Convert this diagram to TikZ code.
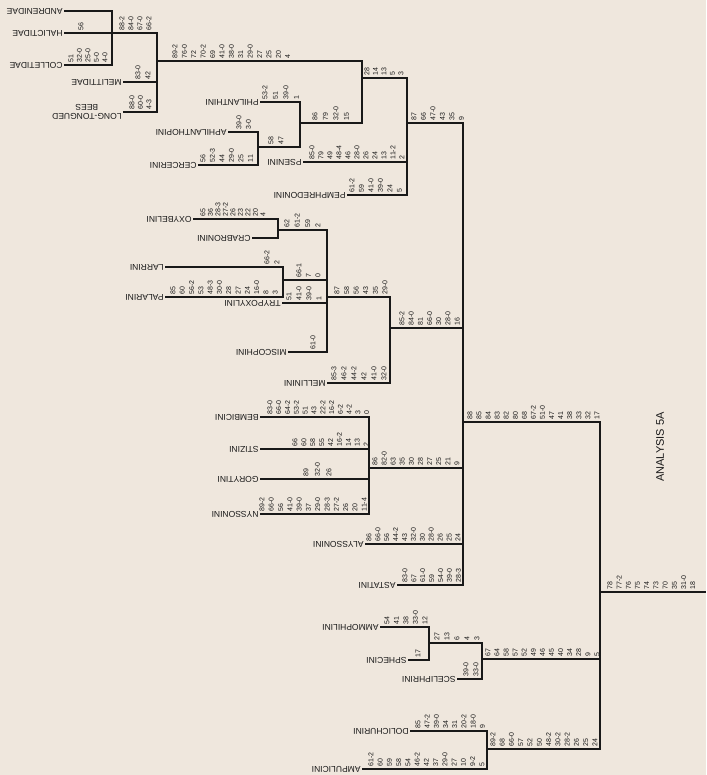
\documentclass[tikz,border=0pt]{standalone}
\usepackage{fontspec}
\setmainfont{Liberation Sans}
\definecolor{bg}{RGB}{239,231,221}
\definecolor{ink}{RGB}{25,25,25}
\newcommand\taxfont{\fontsize{8.5}{9.5}\selectfont}
\newcommand\chrfont{\fontsize{7}{7}\selectfont}
\newcommand\charlist[5]{%
  \foreach \lab [count=\i from 0] in {#5} {%
    \node[chr] (#1-\i) at ({#2+\i*#3},{#4-2.5}) {\lab};}}
\tikzset{
  br/.style={line width=1.5pt, draw=ink},
  tax/.style={font=\taxfont, rotate=180, anchor=west, inner sep=1.5pt, outer sep=0pt, text=ink},
  chr/.style={font=\chrfont, rotate=90, anchor=west, inner sep=0pt, text=ink},
}
\begin{document}
\begin{tikzpicture}[x=1pt,y=-1pt]
\fill[bg] (0,0) rectangle (706,775);
\useasboundingbox (0,0) rectangle (706,775);

% taxa
\node[tax] (andr) at (64,11) {ANDRENIDAE};
\node[tax] (hali) at (64,33) {HALICTIDAE};
\node[tax] (coll) at (64,65) {COLLETIDAE};
\node[tax] (meli) at (123,82) {MELITTIDAE};
\node[tax, align=center] (long) at (123,112) {LONG-TONGUED\\BEES};
\node[tax] (phil) at (260,102) {PHILANTHINI};
\node[tax] (aphi) at (228,132) {APHILANTHOPINI};
\node[tax] (cerc) at (198,165) {CERCERINI};
\node[tax] (psen) at (303,162) {PSENINI};
\node[tax] (pemp) at (347,195) {PEMPHREDONINI};
\node[tax] (oxyb) at (193,219) {OXYBELINI};
\node[tax] (crab) at (252,238) {CRABRONINI};
\node[tax] (larr) at (165,267) {LARRINI};
\node[tax] (pala) at (165,297) {PALARINI};
\node[tax] (tryp) at (282,303) {TRYPOXYLINI};
\node[tax] (misc) at (288,352) {MISCOPHINI};
\node[tax] (mell) at (327,383) {MELLININI};
\node[tax] (bemb) at (260,417) {BEMBICINI};
\node[tax] (stiz) at (260,449) {STIZINI};
\node[tax] (gory) at (260,479) {GORYTINI};
\node[tax] (nyss) at (260,514) {NYSSONINI};
\node[tax] (alys) at (365,544) {ALYSSONINI};
\node[tax] (asta) at (397,585) {ASTATINI};
\node[tax] (ammo) at (380,627) {AMMOPHILINI};
\node[tax] (sphe) at (408,660) {SPHECINI};
\node[tax] (scel) at (457,679) {SCELIPHRINI};
\node[tax] (doli) at (410,731) {DOLICHURINI};
\node[tax] (ampu) at (362,769) {AMPULICINI};

% junctions
\coordinate (jA) at (112,33);
\coordinate (jB) at (157,61);
\coordinate (jAC) at (258,147);
\coordinate (jPh) at (300,123);
\coordinate (jC) at (362,78);
\coordinate (jD) at (407,123);
\coordinate (jOC) at (278,230);
\coordinate (jLP) at (283,280);
\coordinate (jLa) at (327,297);
\coordinate (jLr) at (390,328);
\coordinate (jNy) at (369,468);
\coordinate (jMain) at (463,422);
\coordinate (jAS) at (429,643);
\coordinate (jSp) at (482,659);
\coordinate (jAm) at (487,749);
\coordinate (jRoot) at (600,592);
\coordinate (rootend) at (706,592);

% branches
\draw[br] (andr.west) -| (jA);
\draw[br] (hali.west) -| (jA);
\draw[br] (coll.west) -| (jA);
\draw[br] (jA) -| (jB);
\draw[br] (meli.west) -| (jB);
\draw[br] (long.west) -| (jB);
\draw[br] (aphi.west) -| (jAC);
\draw[br] (cerc.west) -| (jAC);
\draw[br] (phil.west) -| (jPh);
\draw[br] (jAC) -| (jPh);
\draw[br] (jB) -| (jC);
\draw[br] (jPh) -| (jC);
\draw[br] (jC) -| (jD);
\draw[br] (psen.west) -| (jD);
\draw[br] (pemp.west) -| (jD);
\draw[br] (jD) -| (jMain);
\draw[br] (oxyb.west) -| (jOC);
\draw[br] (crab.west) -| (jOC);
\draw[br] (larr.west) -| (jLP);
\draw[br] (pala.west) -| (jLP);
\draw[br] (jOC) -| (jLa);
\draw[br] (jLP) -| (jLa);
\draw[br] (tryp.west) -| (jLa);
\draw[br] (misc.west) -| (jLa);
\draw[br] (jLa) -| (jLr);
\draw[br] (mell.west) -| (jLr);
\draw[br] (jLr) -| (jMain);
\draw[br] (bemb.west) -| (jNy);
\draw[br] (stiz.west) -| (jNy);
\draw[br] (gory.west) -| (jNy);
\draw[br] (nyss.west) -| (jNy);
\draw[br] (jNy) -| (jMain);
\draw[br] (alys.west) -| (jMain);
\draw[br] (asta.west) -| (jMain);
\draw[br] (ammo.west) -| (jAS);
\draw[br] (sphe.west) -| (jAS);
\draw[br] (jAS) -| (jSp);
\draw[br] (scel.west) -| (jSp);
\draw[br] (doli.west) -| (jAm);
\draw[br] (ampu.west) -| (jAm);
\draw[br] (jMain) -| (jRoot);
\draw[br] (jSp) -| (jRoot);
\draw[br] (jAm) -| (jRoot);
\draw[br] (jRoot) -- (rootend);

% character lists
\charlist{c1}{81}{9}{33}{56}
\charlist{c2}{71}{8.5}{65}{51,32-0,25-0,5-0,4-0}
\charlist{c3}{122}{9}{33}{88-2,84-0,67-0,66-2}
\charlist{c4}{138}{10}{82}{83-0,42}
\charlist{c5}{132}{8.5}{112}{88-0,60-0,4-3}
\charlist{c6}{175}{9.4}{61}{89-2,76-0,72,70-2,69,41-0,38-0,31,29-0,27,25,20,4}
\charlist{c7}{265}{10.5}{102}{53-2,51,39-0,1}
\charlist{c8}{239}{9.5}{132}{39-0,3-0}
\charlist{c9}{203}{9.5}{165}{56,52-3,44,29-0,25,11}
\charlist{c10}{271}{10}{147}{58,47}
\charlist{c11}{315}{10.5}{123}{86,79,32-0,15}
\charlist{c12}{367}{8.5}{78}{28,14,13,5,3}
\charlist{c13}{312}{9}{162}{85-0,79,49,48-4,46,28-0,26,24,13,11-2,2}
\charlist{c14}{352}{9.5}{195}{61-2,59,41-0,39-0,24,5}
\charlist{c15}{414}{9.5}{123}{87,66,47-0,43,35,9}
\charlist{c16}{203}{7.5}{219}{65,36,28-3,27-2,26,23,22,20,4}
\charlist{c17}{287}{10.3}{230}{62,61-2,59,2}
\charlist{c18}{267}{10}{267}{66-2,2}
\charlist{c19}{173}{9.3}{297}{85,60,56-2,53,48-3,30-0,28,27,24,16-0,8,3}
\charlist{c20}{299}{9.5}{280}{66-1,7,0}
\charlist{c21}{289}{10}{303}{51,41-0,39-0,1}
\charlist{c22}{313}{9}{352}{61-0}
\charlist{c23}{337}{9.6}{297}{87,58,56,43,35,29-0}
\charlist{c24}{334}{10}{383}{85-3,46-2,44-2,42,41-0,32-0}
\charlist{c25}{402}{9.2}{328}{85-2,84-0,81,66-0,30,28-0,16}
\charlist{c26}{270}{8.8}{417}{83-0,66-0,64-2,53-2,51,43,22-2,16-2,6-2,4-2,3,0}
\charlist{c27}{295}{8.9}{449}{66,60,58,55,42,16-2,14,13,2}
\charlist{c28}{306}{11.5}{479}{89,32-0,26}
\charlist{c29}{262}{9.3}{514}{89-2,66-0,56,41-0,39-0,37,29-0,28-3,27-2,26,20,11-4}
\charlist{c30}{375}{9.1}{468}{86,82-0,63,35,30,28,27,25,21,9}
\charlist{c31}{369}{8.9}{544}{86,66-0,56,44-2,43,32-0,30,28-0,26,25,24}
\charlist{c32}{405}{8.9}{585}{83-0,67,61-0,59,54-0,39-0,28-3}
\charlist{c33}{470}{9.07}{422}{88,85,84,83,82,80,68,67-2,51-0,47,41,38,33,32,17}
\charlist{c34}{387}{9.5}{627}{54,41,38,33-0,12}
\charlist{c35}{418}{9}{660}{17}
\charlist{c36}{437}{10}{643}{27,13,6,4,3}
\charlist{c37}{466}{10}{679}{39-0,33-0}
\charlist{c38}{488}{9.08}{659}{67,64,58,57,52,49,46,45,40,34,28,9,5}
\charlist{c39}{418}{9.2}{731}{85,47-2,39-0,34,31,20-2,18-0,9}
\charlist{c40}{371}{9.25}{769}{61-2,60,59,58,54,46-2,42,37,29-0,27,10,9-2,5}
\charlist{c41}{493}{9.27}{749}{89-2,68,66-0,57,52,50,48-2,30-2,28-2,26,25,24}
\charlist{c42}{610}{9.2}{592}{78,77-2,76,75,74,73,70,35,31-0,18}

\node[font=\fontsize{11}{11}\selectfont, rotate=90, text=ink] (title) at (660,447) {ANALYSIS 5A};
\end{tikzpicture}
\end{document}
